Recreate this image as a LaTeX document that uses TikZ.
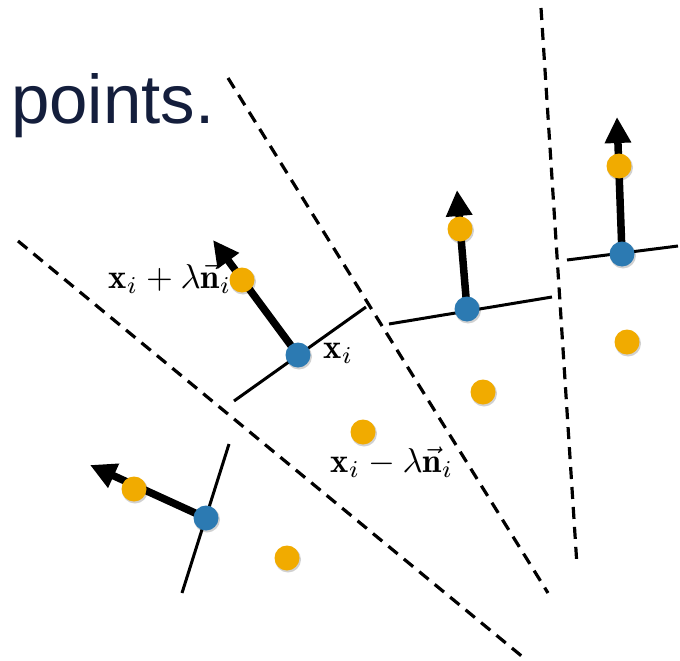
\documentclass[tikz,border=0pt]{standalone}
\usepackage{fontspec}
\newfontfamily\helv{Liberation Sans}
\usetikzlibrary{arrows.meta}
\definecolor{navy}{RGB}{20,30,60}
\definecolor{dotblue}{RGB}{44,122,178}
\definecolor{dotorange}{RGB}{241,171,0}
\tikzset{
  sep/.style={line width=3.2pt, dash pattern=on 12pt off 8pt},
  plane/.style={line width=3pt},
  normal/.style={line width=7.5pt, -{Triangle[length=26pt,width=25pt]}},
  bdot/.style={circle, fill=dotblue, minimum size=25pt, inner sep=0pt},
  odot/.style={circle, fill=dotorange, minimum size=25pt, inner sep=0pt},
  shadowdot/.style={circle, fill=black, opacity=0.18, minimum size=26pt, inner sep=0pt},
  mlabel/.style={scale=3.45, inner sep=0pt, anchor=base west}
}
\begin{document}
\begin{tikzpicture}[x=1pt,y=-1pt]
\useasboundingbox (0,0) rectangle (680,661);
% title text
\node[anchor=base west, inner sep=0pt, text=navy, font=\helv\fontsize{69}{80}\selectfont] (title) at (11,123) {points.};
% separating dashed lines
\coordinate (d1a) at (18,241); \coordinate (d1b) at (524,658);
\coordinate (d2a) at (228,78); \coordinate (d2b) at (548,593);
\coordinate (d3a) at (541,8); \coordinate (d3b) at (577,566);
\draw[sep] (d1a) -- (d1b);
\draw[sep] (d2a) -- (d2b);
\draw[sep] (d3a) -- (d3b);
% local planes
\coordinate (pa1) at (234,401); \coordinate (pa2) at (366,307);
\coordinate (pb1) at (389,324); \coordinate (pb2) at (552,297);
\coordinate (pc1) at (567,260); \coordinate (pc2) at (678,246);
\coordinate (pd1) at (229,444); \coordinate (pd2) at (182,593);
\draw[plane] (pa1) -- (pa2);
\draw[plane] (pb1) -- (pb2);
\draw[plane] (pc1) -- (pc2);
\draw[plane] (pd1) -- (pd2);
% arrow tips
\coordinate (ta) at (213,240);
\coordinate (tb) at (457,190);
\coordinate (tc) at (617,117);
\coordinate (td) at (90,465);
\coordinate (ca) at (298,355);
\coordinate (cb) at (467,309);
\coordinate (cc) at (622,254);
\coordinate (cd) at (206,518);
\draw[normal] (ca) -- (ta);
\draw[normal] (cb) -- (tb);
\draw[normal] (cc) -- (tc);
\draw[normal] (cd) -- (td);
% shadows
\foreach \px/\py in {298/355,467/309,622/254,206/518,242/280,460/229,619/166,134/489,287/558,363/432,483/392,627/342}
  \node[shadowdot] at (\px+1,\py+1.5) {};
% dots
\node[bdot] (ba) at (ca) {};
\node[bdot] (bb) at (cb) {};
\node[bdot] (bc) at (cc) {};
\node[bdot] (bd) at (cd) {};
\node[odot] (oa) at (242,280) {};
\node[odot] (ob) at (460,229) {};
\node[odot] (oc) at (619,166) {};
\node[odot] (od) at (134,489) {};
\node[odot] (oe) at (287,558) {};
\node[odot] (of) at (363,432) {};
\node[odot] (og) at (483,392) {};
\node[odot] (oh) at (627,342) {};
% labels
\node[mlabel] (lplus) at (108,288) {$\mathbf{x}_i+\lambda\vec{\mathbf{n}}_i$};
\node[mlabel] (lx) at (323,358) {$\mathbf{x}_i$};
\node[mlabel] (lminus) at (330,472) {$\mathbf{x}_i-\lambda\vec{\mathbf{n}}_i$};
\end{tikzpicture}
\end{document}
